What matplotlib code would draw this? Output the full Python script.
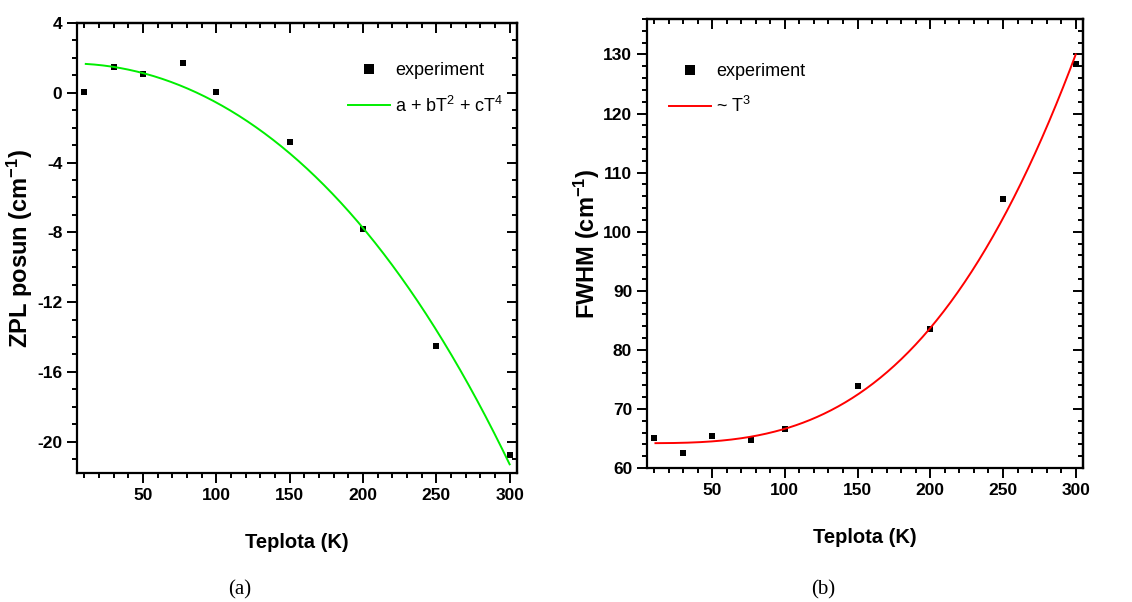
import numpy as np
import matplotlib
matplotlib.use("Agg")
import matplotlib.pyplot as plt
from matplotlib.ticker import MultipleLocator

plt.rcParams["font.family"] = ["Liberation Sans", "DejaVu Sans"]
plt.rcParams["axes.unicode_minus"] = False
plt.rcParams["mathtext.default"] = "regular"

# Temperatures (K)
temperature = [10, 30, 50, 77, 100, 150, 200, 250, 300]

# ZPL shift (cm^-1)
zpl_shift = [0.05, 1.45, 1.07, 1.71, 0.05, -2.8, -7.81, -14.54, -20.76]
# fit a + b T^2 + c T^4 (T in units of 100 K)
zpl_fit_abc = [1.68, -2.2008, -0.0392]

# FWHM (cm^-1)
fwhm = [65.0, 62.5, 65.5, 64.8, 66.6, 73.8, 83.5, 105.5, 128.4]
# fit a + b T^3
fwhm_fit_ab = [64.2, 2.437e-6]

fit_range = [11, 300]

fig = plt.figure(figsize=(11.32, 6.02), dpi=100)
ax1 = fig.add_axes([0.068, 0.2143, 0.3887, 0.7475])
ax2 = fig.add_axes([0.5713, 0.2226, 0.3854, 0.7458])

T_fit = np.linspace(fit_range[0], fit_range[1], 300)
u = (T_fit / 100.0) ** 2
zpl_curve = zpl_fit_abc[0] + zpl_fit_abc[1] * u + zpl_fit_abc[2] * u ** 2
fwhm_curve = fwhm_fit_ab[0] + fwhm_fit_ab[1] * T_fit ** 3

ax1.plot(temperature, zpl_shift, "s", color="black", ms=4.5, mew=0, label="experiment")
ax1.plot(T_fit, zpl_curve, color="#00ee00", lw=1.4, label=r"a + bT$^2$ + cT$^4$")

ax2.plot(temperature, fwhm, "s", color="black", ms=4.5, mew=0, label="experiment")
ax2.plot(T_fit, fwhm_curve, color="#ff0000", lw=1.4, label=r"~ T$^3$")

ax1.set_xlim(5, 305)
ax1.set_ylim(-21.8, 4)
ax2.set_xlim(5, 305)
ax2.set_ylim(60, 136)

ax1.yaxis.set_major_locator(MultipleLocator(4))
ax1.yaxis.set_minor_locator(MultipleLocator(1))
ax2.yaxis.set_major_locator(MultipleLocator(10))
ax2.yaxis.set_minor_locator(MultipleLocator(2))

for ax in (ax1, ax2):
    ax.xaxis.set_major_locator(MultipleLocator(50))
    ax.xaxis.set_minor_locator(MultipleLocator(10))
    for s in ax.spines.values():
        s.set_linewidth(1.6)
    ax.tick_params(which="both", direction="out", width=1.4, top=False, right=False)
    ax.tick_params(which="major", length=7, labelsize=12.5)
    ax.tick_params(which="minor", length=3.5)
    for lab in ax.get_xticklabels() + ax.get_yticklabels():
        lab.set_fontweight("bold")
    # mirrored inward ticks on top and right
    sec_x = ax.secondary_xaxis("top")
    sec_x.xaxis.set_major_locator(MultipleLocator(50))
    sec_x.xaxis.set_minor_locator(MultipleLocator(10))
    sec_x.tick_params(which="both", direction="in", width=1.4, labeltop=False)
    sec_x.tick_params(which="major", length=7)
    sec_x.tick_params(which="minor", length=3.5)
    sec_x.spines["top"].set_linewidth(1.6)
    sec_y = ax.secondary_yaxis("right")
    sec_y.yaxis.set_major_locator(ax.yaxis.get_major_locator())
    sec_y.yaxis.set_minor_locator(ax.yaxis.get_minor_locator())
    sec_y.tick_params(which="both", direction="in", width=1.4, labelright=False)
    sec_y.tick_params(which="major", length=7)
    sec_y.tick_params(which="minor", length=3.5)
    sec_y.spines["right"].set_linewidth(1.6)
    ax.set_xlabel("Teplota (K)", fontsize=14.5, fontweight="bold", labelpad=22)

ax1.set_ylabel(r"ZPL posun (cm$^{-1}$)", fontsize=17, fontweight="bold")
ax2.set_ylabel(r"FWHM (cm$^{-1}$)", fontsize=17, fontweight="bold")
ax1.yaxis.set_label_coords(-0.095, 0.5)
ax2.yaxis.set_label_coords(-0.103, 0.5)

ax1.legend(loc="upper left", bbox_to_anchor=(0.58, 0.949), frameon=False,
           fontsize=13, markerscale=1.5, handlelength=2.3, handletextpad=0.3,
           labelspacing=0.9)
ax2.legend(loc="upper left", bbox_to_anchor=(0.014, 0.938), frameon=False,
           fontsize=13, markerscale=1.5, handlelength=2.3, handletextpad=0.3,
           labelspacing=0.9)

fig.text(0.2118, 0.02, "(a)", family="Liberation Serif", fontsize=15, ha="center", va="center")
fig.text(0.727, 0.02, "(b)", family="Liberation Serif", fontsize=15, ha="center", va="center")

fig.savefig("out.png", dpi=100)
